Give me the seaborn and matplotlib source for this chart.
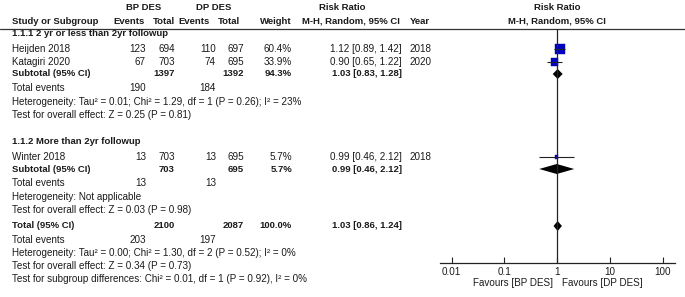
import numpy as np
import pandas as pd
import seaborn as sns
import matplotlib.pyplot as plt

# Dados dos estudos
studies = ["Heijden 2018", "Katagiri 2020", "Winter 2018"]
group = [1, 1, 2]
bp_events = [123, 67, 13]
bp_total = [694, 703, 703]
dp_events = [110, 74, 13]
dp_total = [697, 695, 695]
weight = [60.4, 33.9, 5.7]
rr = [1.12, 0.90, 0.99]
rr_lo = [0.89, 0.65, 0.46]
rr_hi = [1.42, 1.22, 2.12]
year = [2018, 2020, 2018]

# Subtotais e total
group_titles = ["1.1.1 2 yr or less than 2yr followup", "1.1.2 More than 2yr followup"]
sub_bp_total = [1397, 703]
sub_dp_total = [1392, 695]
sub_weight = [94.3, 5.7]
sub_rr = [1.03, 0.99]
sub_lo = [0.83, 0.46]
sub_hi = [1.28, 2.12]
sub_bp_events = [190, 13]
sub_dp_events = [184, 13]
sub_het = ["Heterogeneity: Tau² = 0.01; Chi² = 1.29, df = 1 (P = 0.26); I² = 23%",
           "Heterogeneity: Not applicable"]
sub_test = ["Test for overall effect: Z = 0.25 (P = 0.81)",
            "Test for overall effect: Z = 0.03 (P = 0.98)"]

tot_bp_total, tot_dp_total, tot_weight = 2100, 2087, 100.0
tot_rr, tot_lo, tot_hi = 1.03, 0.86, 1.24
tot_bp_events, tot_dp_events = 203, 197
tot_het = "Heterogeneity: Tau² = 0.00; Chi² = 1.30, df = 2 (P = 0.52); I² = 0%"
tot_test = "Test for overall effect: Z = 0.34 (P = 0.73)"
subgroup_test = "Test for subgroup differences: Chi² = 0.01, df = 1 (P = 0.92), I² = 0%"

xticks = [0.01, 0.1, 1, 10, 100]
xtick_labels = ["0.01", "0.1", "1", "10", "100"]

# Layout (pixels)
W, H = 685, 297
study_rows = [49, 62, 157]
sub_rows = [74, 169]
group_rows = [34, 142]
tot_row = 226
C_BPE, C_BPT, C_DPE, C_DPT, C_W, C_CI, C_Y = 146, 175, 216, 244, 292, 402, 410
TXT = "#1a1a1a"
FS = 7.1    # texto normal
FSB = 6.8   # negrito

sns.set_theme(style="white")
plt.rcParams["font.family"] = ["Liberation Sans", "DejaVu Sans"]

fig = plt.figure(figsize=(W / 100, H / 100), dpi=100)
ax_t = fig.add_axes([0, 0, 1, 1])
ax_t.set_xlim(0, W)
ax_t.set_ylim(H, 0)
ax_t.axis("off")


def txt(x, y, s, ha="left", bold=False):
    ax_t.text(x, y, s, ha=ha, va="center", fontsize=FSB if bold else FS, color=TXT,
              fontweight="bold" if bold else "normal")


# Cabeçalho
txt(144, 8, "BP DES", "center", True)
txt(214, 8, "DP DES", "center", True)
txt(342, 8, "Risk Ratio", "center", True)
txt(557, 8, "Risk Ratio", "center", True)
txt(12, 21, "Study or Subgroup", bold=True)
txt(145, 21, "Events", "right", True)
txt(175, 21, "Total", "right", True)
txt(210, 21, "Events", "right", True)
txt(240, 21, "Total", "right", True)
txt(292, 21, "Weight", "right", True)
txt(351, 21, "M-H, Random, 95% CI", "center", True)
txt(410, 21, "Year", bold=True)
txt(557, 21, "M-H, Random, 95% CI", "center", True)
ax_t.plot([0, W], [29, 29], color="#333333", lw=0.9)

for g in range(2):
    txt(12, group_rows[g], group_titles[g], bold=True)
    for i, s in enumerate(studies):
        if group[i] != g + 1:
            continue
        y = study_rows[i]
        txt(12, y, s)
        txt(C_BPE, y, str(bp_events[i]), "right")
        txt(C_BPT, y, str(bp_total[i]), "right")
        txt(C_DPE, y, str(dp_events[i]), "right")
        txt(C_DPT, y, str(dp_total[i]), "right")
        txt(C_W, y, f"{weight[i]:.1f}%", "right")
        txt(C_CI, y, f"{rr[i]:.2f} [{rr_lo[i]:.2f}, {rr_hi[i]:.2f}]", "right")
        txt(C_Y, y, str(year[i]))
    y = sub_rows[g]
    txt(12, y, "Subtotal (95% CI)", bold=True)
    txt(C_BPT, y, str(sub_bp_total[g]), "right", True)
    txt(C_DPT, y, str(sub_dp_total[g]), "right", True)
    txt(C_W, y, f"{sub_weight[g]:.1f}%", "right", True)
    txt(C_CI, y, f"{sub_rr[g]:.2f} [{sub_lo[g]:.2f}, {sub_hi[g]:.2f}]", "right", True)
    txt(12, y + 14, "Total events")
    txt(C_BPE, y + 14, str(sub_bp_events[g]), "right")
    txt(C_DPE, y + 14, str(sub_dp_events[g]), "right")
    txt(12, y + 28, sub_het[g])
    txt(12, y + 41, sub_test[g])

y = tot_row
txt(12, y, "Total (95% CI)", bold=True)
txt(C_BPT, y, str(tot_bp_total), "right", True)
txt(C_DPT, y, str(tot_dp_total), "right", True)
txt(C_W, y, f"{tot_weight:.1f}%", "right", True)
txt(C_CI, y, f"{tot_rr:.2f} [{tot_lo:.2f}, {tot_hi:.2f}]", "right", True)
txt(12, y + 14, "Total events")
txt(C_BPE, y + 14, str(tot_bp_events), "right")
txt(C_DPE, y + 14, str(tot_dp_events), "right")
txt(12, y + 27, tot_het)
txt(12, y + 40, tot_test)
txt(12, y + 53, subgroup_test)

txt(553, 283, "Favours [BP DES]", "right")
txt(562, 283, "Favours [DP DES]")

# Forest plot
x0, x1, y_top, y_axis = 440, 675, 29, 263
ax = fig.add_axes([x0 / W, 1 - y_axis / H, (x1 - x0) / W, (y_axis - y_top) / H])
ax.set_xscale("log")
dec = 52.75
ax.set_xlim(10 ** ((x0 - 557) / dec), 10 ** ((x1 - 557) / dec))
ax.set_ylim(y_axis, y_top)
ax.patch.set_alpha(0)
for sp in ["top", "left", "right"]:
    ax.spines[sp].set_visible(False)
ax.spines["bottom"].set_color("#222222")
ax.spines["bottom"].set_linewidth(0.9)
ax.axvline(1, color="#222222", lw=0.9)

ax.hlines(study_rows, rr_lo, rr_hi, color="#222222", lw=0.8)
df = pd.DataFrame({"rr": rr, "row": study_rows, "w": weight})
sns.scatterplot(data=df, x="rr", y="row", size="w", sizes=(4.9, 52), marker="s",
                color="#0000c8", edgecolor="#0000a0", linewidth=0.3,
                legend=False, ax=ax)

for est, lo, hi, yy in zip(sub_rr + [tot_rr], sub_lo + [tot_lo], sub_hi + [tot_hi],
                           sub_rows + [tot_row]):
    ax.fill([lo, est, hi, est], [yy, yy - 5, yy, yy + 5], color="black", lw=0)

ax.set_xticks(xticks)
ax.set_xticklabels(xtick_labels)
ax.xaxis.set_minor_locator(plt.NullLocator())
ax.tick_params(axis="x", direction="in", length=4, width=0.8, color="#222222",
               labelsize=FS, labelcolor=TXT, pad=3, bottom=True)
ax.set_yticks([])
ax.set_xlabel("")
ax.set_ylabel("")

fig.savefig("out.png", dpi=100)
